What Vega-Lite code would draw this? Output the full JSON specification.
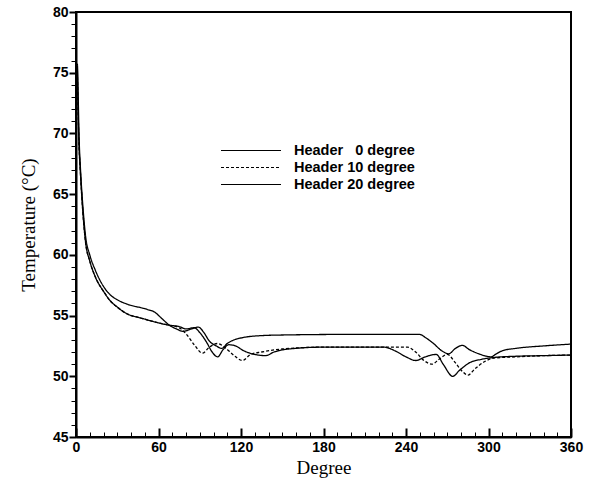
{
  "$schema": "https://vega.github.io/schema/vega-lite/v6.json",
  "width": 495,
  "height": 425,
  "autosize": "none",
  "padding": {"left": 76, "top": 12, "right": 21, "bottom": 43},
  "background": "white",
  "config": {
    "view": {"stroke": "black", "strokeWidth": 2},
    "axis": {"domainColor": "black", "domainWidth": 2, "tickColor": "black", "grid": false,
             "labelFont": "Liberation Sans", "labelFontWeight": "bold", "labelFontSize": 14, "labelColor": "black",
             "titleFont": "Liberation Serif", "titleFontWeight": "normal", "titleFontSize": 19, "titleColor": "#000000"}
  },
  "data": {"values": [
    {"s": "A", "d": 0, "T": 74}, {"s": "A", "d": 1, "T": 75.7}, {"s": "A", "d": 1.6, "T": 73}, {"s": "A", "d": 2.3, "T": 69.5}, {"s": "A", "d": 3.2, "T": 67.2}, {"s": "A", "d": 5, "T": 64}, {"s": "A", "d": 7, "T": 61.5}, {"s": "A", "d": 10, "T": 60}, {"s": "A", "d": 14, "T": 58.75}, {"s": "A", "d": 20, "T": 57.4}, {"s": "A", "d": 25, "T": 56.7}, {"s": "A", "d": 30, "T": 56.3}, {"s": "A", "d": 37, "T": 55.95}, {"s": "A", "d": 47, "T": 55.65}, {"s": "A", "d": 52, "T": 55.5}, {"s": "A", "d": 57, "T": 55.3}, {"s": "A", "d": 62, "T": 54.8}, {"s": "A", "d": 68, "T": 54.2}, {"s": "A", "d": 73, "T": 53.9}, {"s": "A", "d": 78, "T": 53.7}, {"s": "A", "d": 84, "T": 53.9}, {"s": "A", "d": 89, "T": 54.05}, {"s": "A", "d": 93, "T": 53.6}, {"s": "A", "d": 97, "T": 52.9}, {"s": "A", "d": 102, "T": 52.5}, {"s": "A", "d": 106, "T": 52.3}, {"s": "A", "d": 110, "T": 52.7}, {"s": "A", "d": 115, "T": 53.0}, {"s": "A", "d": 122, "T": 53.2}, {"s": "A", "d": 135, "T": 53.35}, {"s": "A", "d": 150, "T": 53.4}, {"s": "A", "d": 200, "T": 53.45}, {"s": "A", "d": 250, "T": 53.45}, {"s": "A", "d": 254, "T": 53.2}, {"s": "A", "d": 260, "T": 52.7}, {"s": "A", "d": 266, "T": 52.1}, {"s": "A", "d": 271, "T": 51.85}, {"s": "A", "d": 276, "T": 52.3}, {"s": "A", "d": 281, "T": 52.55}, {"s": "A", "d": 286, "T": 52.2}, {"s": "A", "d": 293, "T": 51.85}, {"s": "A", "d": 302, "T": 51.6}, {"s": "A", "d": 305, "T": 51.8}, {"s": "A", "d": 310, "T": 52.1}, {"s": "A", "d": 320, "T": 52.3}, {"s": "A", "d": 340, "T": 52.5}, {"s": "A", "d": 360, "T": 52.65},
    {"s": "B", "d": 0, "T": 73.5}, {"s": "B", "d": 0.8, "T": 75.3}, {"s": "B", "d": 1.5, "T": 72}, {"s": "B", "d": 2.2, "T": 69}, {"s": "B", "d": 3.1, "T": 67}, {"s": "B", "d": 5, "T": 63.5}, {"s": "B", "d": 7, "T": 61}, {"s": "B", "d": 10, "T": 59.5}, {"s": "B", "d": 14, "T": 58.2}, {"s": "B", "d": 20, "T": 57.0}, {"s": "B", "d": 25, "T": 56.2}, {"s": "B", "d": 30, "T": 55.7}, {"s": "B", "d": 37, "T": 55.15}, {"s": "B", "d": 47, "T": 54.8}, {"s": "B", "d": 55, "T": 54.55}, {"s": "B", "d": 60, "T": 54.4}, {"s": "B", "d": 68, "T": 54.2}, {"s": "B", "d": 75, "T": 54.0}, {"s": "B", "d": 80, "T": 53.5}, {"s": "B", "d": 86, "T": 52.6}, {"s": "B", "d": 92, "T": 51.9}, {"s": "B", "d": 97, "T": 52.4}, {"s": "B", "d": 103, "T": 52.7}, {"s": "B", "d": 108, "T": 52.4}, {"s": "B", "d": 114, "T": 51.8}, {"s": "B", "d": 121, "T": 51.3}, {"s": "B", "d": 127, "T": 51.8}, {"s": "B", "d": 135, "T": 52.0}, {"s": "B", "d": 150, "T": 52.25}, {"s": "B", "d": 180, "T": 52.4}, {"s": "B", "d": 241, "T": 52.4}, {"s": "B", "d": 247, "T": 52.0}, {"s": "B", "d": 253, "T": 51.3}, {"s": "B", "d": 259, "T": 51.0}, {"s": "B", "d": 264, "T": 51.4}, {"s": "B", "d": 270, "T": 51.8}, {"s": "B", "d": 276, "T": 51.1}, {"s": "B", "d": 281, "T": 50.4}, {"s": "B", "d": 285, "T": 50.1}, {"s": "B", "d": 290, "T": 50.6}, {"s": "B", "d": 297, "T": 51.2}, {"s": "B", "d": 304, "T": 51.5}, {"s": "B", "d": 320, "T": 51.6}, {"s": "B", "d": 340, "T": 51.7}, {"s": "B", "d": 360, "T": 51.75},
    {"s": "C", "d": 0, "T": 73.8}, {"s": "C", "d": 0.9, "T": 75.5}, {"s": "C", "d": 1.5, "T": 72}, {"s": "C", "d": 2.2, "T": 69}, {"s": "C", "d": 3.1, "T": 67}, {"s": "C", "d": 5, "T": 63.5}, {"s": "C", "d": 7, "T": 61}, {"s": "C", "d": 10, "T": 59.5}, {"s": "C", "d": 14, "T": 58.2}, {"s": "C", "d": 20, "T": 57.0}, {"s": "C", "d": 25, "T": 56.2}, {"s": "C", "d": 30, "T": 55.7}, {"s": "C", "d": 37, "T": 55.15}, {"s": "C", "d": 47, "T": 54.8}, {"s": "C", "d": 55, "T": 54.55}, {"s": "C", "d": 60, "T": 54.4}, {"s": "C", "d": 68, "T": 54.2}, {"s": "C", "d": 75, "T": 54.1}, {"s": "C", "d": 80, "T": 53.9}, {"s": "C", "d": 86, "T": 54.0}, {"s": "C", "d": 90, "T": 53.6}, {"s": "C", "d": 95, "T": 52.8}, {"s": "C", "d": 99, "T": 52.0}, {"s": "C", "d": 103, "T": 51.6}, {"s": "C", "d": 107, "T": 52.2}, {"s": "C", "d": 111, "T": 52.6}, {"s": "C", "d": 116, "T": 52.5}, {"s": "C", "d": 122, "T": 52.1}, {"s": "C", "d": 130, "T": 51.8}, {"s": "C", "d": 138, "T": 51.7}, {"s": "C", "d": 144, "T": 52.0}, {"s": "C", "d": 155, "T": 52.25}, {"s": "C", "d": 180, "T": 52.4}, {"s": "C", "d": 224, "T": 52.4}, {"s": "C", "d": 232, "T": 52.1}, {"s": "C", "d": 240, "T": 51.6}, {"s": "C", "d": 247, "T": 51.3}, {"s": "C", "d": 254, "T": 51.6}, {"s": "C", "d": 262, "T": 51.8}, {"s": "C", "d": 267, "T": 51.0}, {"s": "C", "d": 274, "T": 50.0}, {"s": "C", "d": 279, "T": 50.5}, {"s": "C", "d": 286, "T": 51.1}, {"s": "C", "d": 295, "T": 51.4}, {"s": "C", "d": 304, "T": 51.55}, {"s": "C", "d": 320, "T": 51.65}, {"s": "C", "d": 340, "T": 51.7}, {"s": "C", "d": 360, "T": 51.75}
  ]},
  "mark": {"type": "line", "color": "black", "strokeWidth": 1.3, "clip": true, "interpolate": "monotone"},
  "encoding": {
    "x": {"field": "d", "type": "quantitative", "title": "Degree",
          "scale": {"domain": [0, 360], "nice": false, "zero": false},
          "axis": {"values": [0,10,20,30,40,50,60,70,80,90,100,110,120,130,140,150,160,170,180,190,200,210,220,230,240,250,260,270,280,290,300,310,320,330,340,350,360],
                   "labelExpr": "datum.value % 60 === 0 ? datum.label : ''",
                   "tickSize": {"condition": {"test": "datum.value % 60 === 0", "value": -9}, "value": -5},
                   "tickWidth": {"condition": {"test": "datum.value % 60 === 0", "value": 2}, "value": 1},
                   "labelPadding": 12, "labelFlush": false, "titlePadding": 0, "labelOverlap": false, "titleColor": "#000000"}},
    "y": {"field": "T", "type": "quantitative", "title": "Temperature (°C)",
          "scale": {"domain": [45, 80], "nice": false, "zero": false},
          "axis": {"values": [45,46,47,48,49,50,51,52,53,54,55,56,57,58,59,60,61,62,63,64,65,66,67,68,69,70,71,72,73,74,75,76,77,78,79,80],
                   "labelExpr": "datum.value % 5 === 0 ? datum.label : ''",
                   "tickSize": {"condition": {"test": "datum.value % 5 === 0", "value": 7}, "value": 5},
                   "tickWidth": {"condition": {"test": "datum.value % 5 === 0", "value": 2}, "value": 1},
                   "labelPadding": 1, "titlePadding": 14, "labelOverlap": false, "labelFlush": false, "titleColor": "#000000"}},
    "strokeDash": {"field": "s", "type": "nominal",
                   "scale": {"domain": ["A", "B", "C"], "range": [[1, 0], [3, 2], [1, 0]]},
                   "legend": {"orient": "none", "legendX": 144, "legendY": 130, "title": null,
                              "labelExpr": "datum.value === 'A' ? 'Header\u00a0\u00a0\u00a00 degree' : datum.value === 'B' ? 'Header 10 degree' : 'Header 20 degree'",
                              "symbolType": "stroke", "symbolStrokeColor": "black", "symbolStrokeWidth": 1.2, "symbolSize": 3600,
                              "clipHeight": 17,
                              "labelFont": "Liberation Sans", "labelFontWeight": "bold", "labelFontSize": 14.5, "labelColor": "black",
                              "rowPadding": 0, "labelOffset": 12, "padding": 0}}
  }
}
